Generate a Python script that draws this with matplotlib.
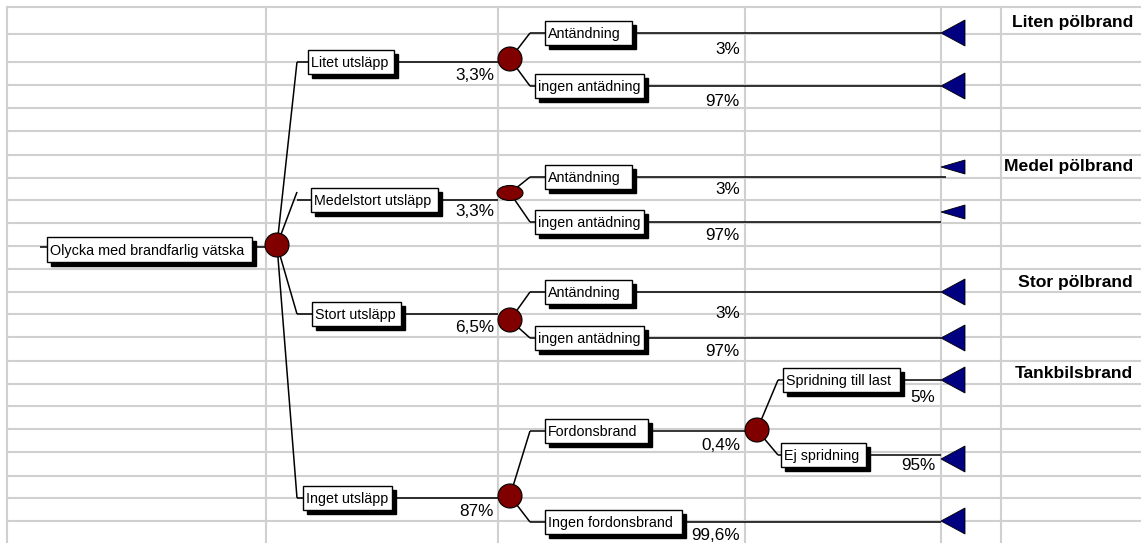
import matplotlib
matplotlib.use("Agg")
import matplotlib.pyplot as plt
from matplotlib.patches import Rectangle, Circle, Ellipse, Polygon

plt.rcParams['font.family'] = ['Liberation Sans', 'DejaVu Sans']

# ---- data ----
root_label = "Olycka med brandfarlig vätska"
release_labels = ["Litet utsläpp", "Medelstort utsläpp", "Stort utsläpp", "Inget utsläpp"]
release_probs = ["3,3%", "3,3%", "6,5%", "87%"]
ignition_labels = ["Antändning", "ingen antädning"]
ignition_probs = ["3%", "97%"]
vehicle_labels = ["Fordonsbrand", "Ingen fordonsbrand"]
vehicle_probs = ["0,4%", "99,6%"]
spread_labels = ["Spridning till last", "Ej spridning"]
spread_probs = ["5%", "95%"]
outcome_labels = ["Liten pölbrand", "Medel pölbrand", "Stor pölbrand", "Tankbilsbrand"]

# ---- layout (pixel space) ----
W, H = 1141, 543
grid_y = [7, 34, 62, 85, 108, 131, 155, 178, 200, 223, 246, 269, 292, 314,
          337, 361, 384, 406, 429, 452, 476, 498, 521]
grid_x = [7, 266, 498, 745, 941, 1001]

DARKRED = '#800000'
NAVY = '#000080'
BOX_FS = 10.3
PROB_FS = 12.3

fig = plt.figure(figsize=(W / 100, H / 100), dpi=100)
ax = fig.add_axes([0, 0, 1, 1])
ax.set_xlim(0, W)
ax.set_ylim(H, 0)
ax.axis('off')

for y in grid_y:
    ax.plot([7, W], [y, y], color='#d0d0d0', lw=1.5, zorder=0)
for x in grid_x:
    ax.plot([x, x], [7, H], color='#d0d0d0', lw=1.5, zorder=0)


def box(x0, y0, w, h, text, fs=BOX_FS):
    ax.add_patch(Rectangle((x0 + 4, y0 + 4), w, h, color='black', zorder=3))
    ax.add_patch(Rectangle((x0, y0), w, h, facecolor='white', edgecolor='black',
                           lw=1.0, zorder=4))
    ax.text(x0 + 3, y0 + h / 2 + 1, text, fontsize=fs, va='center', ha='left', zorder=5)


def node(x, y, r=12, flat=False):
    if flat:
        ax.add_patch(Ellipse((x, y), 26, 15, facecolor=DARKRED, edgecolor='black',
                             lw=0.8, zorder=6))
    else:
        ax.add_patch(Circle((x, y), r, facecolor=DARKRED, edgecolor='black',
                            lw=0.8, zorder=6))


def line(xs, ys, lw=1.1):
    ax.plot(xs, ys, color='black', lw=lw, zorder=2, solid_capstyle='butt')


def end_tri(y, h=26):
    ax.add_patch(Polygon([(941, y), (965, y - h / 2), (965, y + h / 2)],
                         closed=True, facecolor=NAVY, edgecolor='black', lw=0.6, zorder=6))


def prob(x, y, text, fs=PROB_FS):
    ax.text(x, y, text, fontsize=fs, ha='right', va='center', zorder=5)


# root
line([40, 47], [247, 247])
box(47, 237, 205, 25, root_label, fs=10.4)
line([252, 277], [247, 247])
root = (277, 245)

# first level
rel_y = [62, 200, 314, 498]
rel_box_x = [308, 311, 312, 303]
rel_box_w = [86, 127, 89, 89]
rel_node_y = [59, 193, 320, 496]
prob_y = [75, 212, 328, 512]
for i in range(4):
    y = rel_y[i]
    knee_y = 192 if i == 1 else y
    line([root[0], 297], [root[1], knee_y])
    line([297, rel_box_x[i]], [y, y])
    box(rel_box_x[i], y - 12, rel_box_w[i], 24, release_labels[i])
    line([rel_box_x[i] + rel_box_w[i], 498], [y, y])
    prob(494, prob_y[i], release_probs[i])
node(*root)

# ignition branches for the three release sizes
ign_rows = [(33, 86), (177, 222), (292, 338)]
ign_prob_y = [(50, 101), (190, 236), (313, 351)]
tri_y = [(33, 86), (167, 212), (292, 338)]
tri_h = [(26, 26), (14, 14), (26, 26)]
ign_line_end = [(941, 941), (946, 941), (941, 941)]
for i in range(3):
    cy = rel_node_y[i]
    for j in range(2):
        y = ign_rows[i][j]
        bx = 545 if j == 0 else 535
        bw = 87 if j == 0 else 109
        line([510, 530], [cy, y])
        line([530, bx], [y, y])
        box(bx, y - 12, bw, 24, ignition_labels[j])
        line([bx + bw, ign_line_end[i][j]], [y, y])
        prob(740, ign_prob_y[i][j], ignition_probs[j])
        end_tri(tri_y[i][j], tri_h[i][j])
    node(510, cy, flat=(i == 1))

# vehicle fire branch
veh_y = [431, 522]
veh_w = [103, 137]
veh_prob_y = [446, 535]
for j in range(2):
    y = veh_y[j]
    line([510, 530], [rel_node_y[3], y])
    line([530, 545], [y, y])
    box(545, y - 12, veh_w[j], 24, vehicle_labels[j])
    prob(740, veh_prob_y[j], vehicle_probs[j])
line([648, 757], [431, 431])
line([682, 941], [522, 522])
end_tri(521)
node(510, rel_node_y[3])

# spreading to load
spr_y = [380, 455]
spr_x = [783, 781]
spr_w = [117, 85]
spr_prob_y = [397, 466]
spr_tri_y = [380, 459]
for j in range(2):
    y = spr_y[j]
    line([757, 778], [430, y])
    line([778, spr_x[j]], [y, y])
    box(spr_x[j], y - 12, spr_w[j], 24, spread_labels[j])
    line([spr_x[j] + spr_w[j], 941], [y, y])
    prob(935, spr_prob_y[j], spread_probs[j])
    end_tri(spr_tri_y[j])
node(757, 430)

# outcome names
out_y = [22, 167, 282, 374]
for name, y in zip(outcome_labels, out_y):
    ax.text(1133, y, name, fontsize=12.6, fontweight='bold', ha='right', va='center')

fig.savefig('out.png', dpi=100)
